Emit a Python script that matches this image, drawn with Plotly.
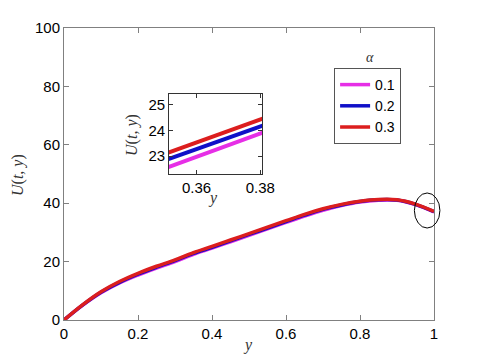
import plotly.graph_objects as go

# ---- data ----
y_pos = [0, 0.05, 0.1, 0.15, 0.2, 0.25, 0.3, 0.35, 0.4, 0.45, 0.5,
         0.55, 0.6, 0.65, 0.7, 0.75, 0.8, 0.85, 0.9, 0.95, 1.0]
u_a01 = [0, 5.0, 9.3, 12.7, 15.4, 17.8, 20.0, 22.5, 24.6, 26.8, 29.0,
         31.2, 33.4, 35.6, 37.6, 39.2, 40.4, 41.0, 41.0, 39.5, 37.0]
u_a02 = [0, 5.1, 9.5, 12.9, 15.7, 18.1, 20.3, 22.8, 24.9, 27.1, 29.3,
         31.5, 33.7, 35.9, 37.9, 39.4, 40.6, 41.2, 41.1, 39.6, 37.1]
u_a03 = [0, 5.2, 9.7, 13.2, 16.0, 18.4, 20.6, 23.1, 25.2, 27.4, 29.6,
         31.8, 34.0, 36.2, 38.1, 39.6, 40.7, 41.3, 41.2, 39.7, 37.2]

# zoomed window (inset)
inset_y = [0.35, 0.381]
inset_a01 = [22.52, 23.93]
inset_a02 = [22.83, 24.20]
inset_a03 = [23.08, 24.48]

alphas = ["0.1", "0.2", "0.3"]
colors = ["#e62ee6", "#1010c8", "#dc1e1e"]

TICK_FONT = dict(family="Liberation Sans, Arial, sans-serif", size=15, color="black")
SERIF = "Liberation Serif, DejaVu Serif, serif"

fig = go.Figure()

# main curves (red drawn last, on top)
for name, vals, col in zip(alphas, [u_a01, u_a02, u_a03], colors):
    fig.add_trace(go.Scatter(
        x=y_pos, y=vals, mode="lines", name=name,
        line=dict(color=col, width=3.5, shape="spline"),
        xaxis="x", yaxis="y",
    ))

# inset curves
for vals, col in zip([inset_a01, inset_a02, inset_a03], colors):
    fig.add_trace(go.Scatter(
        x=inset_y, y=vals, mode="lines", showlegend=False,
        line=dict(color=col, width=4),
        xaxis="x2", yaxis="y2",
    ))

main_axis = dict(
    showline=True, linecolor="#808080", linewidth=1, mirror="allticks",
    ticks="inside", ticklen=5, tickcolor="#808080",
    showgrid=False, zeroline=False, tickfont=TICK_FONT, automargin=False,
)
inset_axis = dict(
    showline=True, linecolor="#333333", linewidth=1, mirror="allticks",
    ticks="inside", ticklen=4, tickcolor="#333333",
    showgrid=False, zeroline=False, tickfont=TICK_FONT, automargin=False,
)

# page body adds an 8px offset, so the figure is 8px smaller than the window
fig.update_layout(
    width=472, height=352,
    margin=dict(l=56, r=46, t=20, b=40),
    paper_bgcolor="white", plot_bgcolor="white",
    xaxis=dict(main_axis, range=[0, 1], tickvals=[0, 0.2, 0.4, 0.6, 0.8, 1],
               ticktext=["0", "0.2", "0.4", "0.6", "0.8", "1"], domain=[0, 1]),
    yaxis=dict(main_axis, range=[0, 100], tickvals=[0, 20, 40, 60, 80, 100],
               domain=[0, 1]),
    xaxis2=dict(inset_axis, range=[0.3514, 0.3805], tickvals=[0.36, 0.38],
                ticktext=["0.36", "0.38"], domain=[0.284, 0.535], anchor="y2"),
    yaxis2=dict(inset_axis, range=[22.3, 25.43], tickvals=[23, 24, 25],
                domain=[0.5, 0.774], anchor="x2"),
    legend=dict(
        x=0.73, y=0.863, xanchor="left", yanchor="top",
        bgcolor="white", bordercolor="#555555", borderwidth=1,
        font=dict(family="Liberation Sans, Arial, sans-serif", size=14, color="black"),
        tracegroupgap=0, itemwidth=30,
    ),
    showlegend=True,
)

title_font = dict(family=SERIF, size=16, color="#333333")
ann = dict(xref="paper", yref="paper", showarrow=False,
           xanchor="center", yanchor="middle")
# axis titles
fig.add_annotation(ann, text="<i>U</i>(<i>t</i>, <i>y</i>)", x=-0.124, y=0.497,
                   textangle=-90, font=title_font)
fig.add_annotation(ann, text="<i>y</i>", x=0.497, y=-0.086, font=title_font)
fig.add_annotation(ann, text="<i>U</i>(<i>t</i>, <i>y</i>)", x=0.184, y=0.634,
                   textangle=-90, font=title_font)
fig.add_annotation(ann, text="<i>y</i>", x=0.403, y=0.418, font=title_font)
# legend title
fig.add_annotation(ann, text="<i>α</i>", x=0.827, y=0.90,
                   font=dict(family=SERIF, size=14, color="#333333"))

# ellipse marking the zoomed region
fig.add_shape(type="circle", xref="paper", yref="paper",
              x0=0.947, x1=1.016, y0=0.315, y1=0.435,
              line=dict(color="black", width=1))

fig.write_html("out.html")
